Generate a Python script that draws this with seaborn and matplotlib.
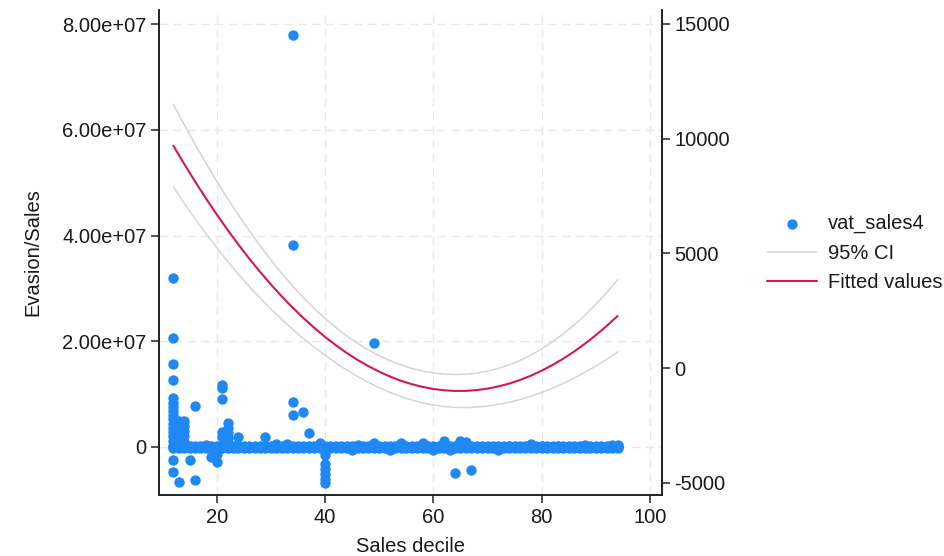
import numpy as np
import pandas as pd
import matplotlib
matplotlib.use("Agg")
import matplotlib.pyplot as plt
from matplotlib.ticker import FuncFormatter
import seaborn as sns

# ---------------- data ----------------
# dense band of observations near zero for every sales decile
band_x = list(range(12, 95))
band_levels = [-2.5e5, 0.0, 2.5e5]

# small bumps around the band
bump_x = [18, 24, 29, 31, 33, 39, 45, 46, 49, 52, 54, 58, 60, 62, 63, 65, 66,
          72, 74, 78, 80, 83, 88, 93, 94]
bump_y = [3.5e5, 1.8e6, 1.8e6, 6e5, 5e5, 8e5, -5.6e5, 3.5e5, 8e5, -5.6e5, 7e5,
          8e5, -5e5, 1.1e6, -5e5, 1.1e6, 1.0e6, -5e5, 1.5e5, 5e5, 2e5, 2e5,
          4e5, 3e5, 4e5]

# scattered outliers
out_x = [12, 12, 12, 12, 12, 12, 12, 12, 12, 12, 12, 12, 12, 12, 12, 12, 12,
         13, 13, 13, 13, 13, 14, 14, 14, 14, 14, 15, 16, 16,
         19, 20, 20, 21, 21, 21, 21, 21, 22, 22, 22, 22, 22,
         34, 34, 34, 34, 36, 37,
         40, 40, 40, 40, 40, 40, 49, 64, 67]
out_y = [3.19e7, 2.07e7, 1.57e7, 1.26e7, 9.2e6, 8.4e6, 7.6e6, 6.8e6, 6.0e6,
         5.2e6, 4.4e6, 3.6e6, 2.8e6, 2.0e6, 1.2e6, -2.5e6, -4.7e6,
         5.0e6, 4.0e6, 3.0e6, 2.0e6, -6.6e6, 5.0e6, 4.0e6, 3.0e6, 2.0e6, 1.0e6,
         -2.5e6, 7.7e6, -6.2e6,
         -1.9e6, -2.8e6, -1.4e6, 1.17e7, 1.12e7, 9.0e6, 2.8e6, 1.8e6,
         4.6e6, 3.6e6, 2.6e6, 1.6e6, 8e5,
         7.79e7, 3.82e7, 8.5e6, 6.0e6, 6.6e6, 2.6e6,
         -1.5e6, -3.3e6, -4.2e6, -5.1e6, -6.0e6, -6.8e6, 1.97e7, -4.9e6, -4.4e6]

# fitted values and 95% CI (right axis)
fit_x = [12, 14, 16, 18, 20, 22, 24, 26, 28, 30, 32, 34, 36, 38, 40, 42, 44,
         46, 48, 50, 52, 54, 56, 58, 60, 62, 64, 66, 68, 70, 72, 74, 76, 78,
         80, 82, 84, 86, 88, 90, 92, 94]
fit_y = [9698, 8903, 8140, 7406, 6704, 6032, 5391, 4781, 4201, 3652, 3134,
         2646, 2189, 1763, 1367, 1002, 668, 364, 91, -151, -363, -544, -694,
         -814, -903, -961, -989, -986, -952, -887, -792, -667, -510, -323,
         -105, 143, 422, 732, 1073, 1444, 1845, 2278]
ci_lo = [7898, 7193, 6520, 5871, 5254, 4662, 4101, 3566, 3061, 2582, 2134,
         1701, 1299, 918, 567, 232, -72, -358, -614, -848, -1053, -1234,
         -1384, -1509, -1603, -1668, -1704, -1713, -1692, -1647, -1572, -1482,
         -1360, -1223, -1055, -872, -658, -428, -167, 99, 390, 708]
ci_hi = [11498, 10613, 9760, 8941, 8154, 7402, 6681, 5996, 5341, 4722, 4134,
         3591, 3079, 2608, 2167, 1772, 1408, 1086, 796, 546, 327, 146, -4,
         -119, -203, -254, -274, -259, -212, -127, -12, 148, 340, 577, 845,
         1158, 1502, 1892, 2313, 2789, 3300, 3848]

# ---------------- assemble tables ----------------
band_df = pd.DataFrame([(x, lv) for x in band_x for lv in band_levels],
                       columns=["decile", "vat"])
scatter_df = pd.concat([
    band_df,
    pd.DataFrame({"decile": bump_x, "vat": bump_y}),
    pd.DataFrame({"decile": out_x, "vat": out_y}),
], ignore_index=True)
fit_df = pd.DataFrame({"decile": fit_x, "fit": fit_y, "lo": ci_lo, "hi": ci_hi})

# ---------------- style ----------------
sns.set_style("white")
plt.rcParams["font.family"] = ["Liberation Sans", "DejaVu Sans"]
FS = 14.5
TXT = "#1a1a1a"
BLUE = "#1e88f5"
RED = "#d6174f"
GREY = "#d4d4d4"

fig = plt.figure(figsize=(9.45, 5.56), dpi=100)
ax = fig.add_axes([159 / 945, 1 - 495 / 556, (662 - 159) / 945, (495 - 10) / 556])
ax2 = ax.twinx()

sns.scatterplot(data=scatter_df, x="decile", y="vat", ax=ax, color=BLUE,
                s=56, linewidth=0, marker="o", label="vat_sales4", zorder=3)

sns.lineplot(data=fit_df, x="decile", y="hi", ax=ax2, color=GREY, lw=1.1,
             label="95% CI")
sns.lineplot(data=fit_df, x="decile", y="lo", ax=ax2, color=GREY, lw=1.1,
             label="_nolegend_")
sns.lineplot(data=fit_df, x="decile", y="fit", ax=ax2, color=RED, lw=1.5,
             label="Fitted values")

for a in (ax, ax2):
    if a.get_legend() is not None:
        a.get_legend().remove()

# limits
ax.set_xlim(9.35, 102.2)
ax.set_ylim(-9.1e6, 8.27e7)
ax2.set_ylim(-5523, 15610)

# ticks
ax.set_xticks([20, 40, 60, 80, 100])
ax.set_yticks([0, 2e7, 4e7, 6e7, 8e7])
ax2.set_yticks([-5000, 0, 5000, 10000, 15000])
ax.yaxis.set_major_formatter(FuncFormatter(lambda v, p: "0" if v == 0 else f"{v:.2e}"))
ax2.yaxis.set_major_formatter(FuncFormatter(lambda v, p: f"{int(v)}"))

for a in (ax, ax2):
    a.tick_params(axis="both", which="major", labelsize=FS, labelcolor=TXT,
                  length=5.5, width=1.1, color="#222222", pad=3.5, direction="out")
ax.tick_params(axis="x", bottom=True, length=6)
ax.tick_params(axis="y", left=True)
ax2.tick_params(axis="y", right=True)

# spines
for a in (ax, ax2):
    a.spines["top"].set_visible(False)
    for s in ("left", "bottom", "right"):
        a.spines[s].set_color("#222222")
        a.spines[s].set_linewidth(1.2)

# grid
ax.grid(True, axis="both", color="#e8e8e8", linestyle=(0, (6, 4)), lw=1.0)
ax.set_axisbelow(True)
ax2.grid(False)

# labels
ax.set_xlabel("Sales decile", fontsize=FS, color=TXT, labelpad=7)
ax.set_ylabel("Evasion/Sales", fontsize=FS, color=TXT, labelpad=14)
ax2.set_ylabel("")

# legend
h1, l1 = ax.get_legend_handles_labels()
h2, l2 = ax2.get_legend_handles_labels()
handles, labels = [], []
for h, l in zip(h1 + h2, l1 + l2):
    if not l.startswith("_"):
        handles.append(h)
        labels.append(l)
fig.legend(handles, labels, loc="center left", bbox_to_anchor=(767 / 945, 1 - 253 / 556),
           frameon=False, fontsize=FS, handlelength=2.5, handletextpad=0.55,
           labelspacing=0.52, borderpad=0, borderaxespad=0, labelcolor=TXT)

fig.savefig("out.png", dpi=100)
